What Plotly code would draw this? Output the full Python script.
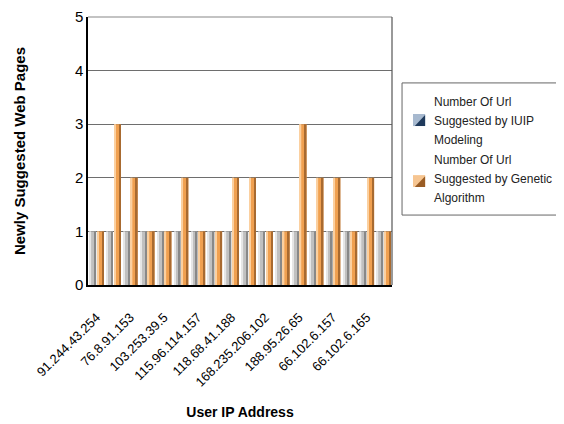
import plotly.graph_objects as go

ip_labels = ["91.244.43.254", "76.8.91.153", "103.253.39.5", "115.96.114.157",
             "118.68.41.188", "168.235.206.102", "188.95.26.65", "66.102.6.157",
             "66.102.6.165"]
label_index = [0, 2, 4, 6, 8, 10, 12, 14, 16]
x_index = list(range(18))
iuip = [1] * 18
genetic = [1, 3, 2, 1, 1, 2, 1, 1, 2, 2, 1, 1, 3, 2, 2, 1, 2, 1]
legend_lines = [["Number Of Url", "Suggested by IUIP", "Modeling"],
                ["Number Of Url", "Suggested by Genetic", "Algorithm"]]

fig = go.Figure()

def add_bar(values, offset, width, face, light, dark, name):
    fig.add_trace(go.Bar(x=x_index, y=values, offset=offset, width=width,
                         marker=dict(color=face, line=dict(width=0)), name=name))
    fig.add_trace(go.Bar(x=x_index, y=values, offset=offset, width=width * 0.22,
                         marker=dict(color=light, line=dict(width=0)), hoverinfo="skip"))
    fig.add_trace(go.Bar(x=x_index, y=values, offset=offset + width * 0.75, width=width * 0.25,
                         marker=dict(color=dark, line=dict(width=0)), hoverinfo="skip"))

add_bar(iuip, -0.40, 0.38, "#c0c0c0", "#e6e6e6", "#888888", " ".join(legend_lines[0]))
add_bar(genetic, 0.04, 0.40, "#f0a050", "#fbd0a0", "#a86a30", " ".join(legend_lines[1]))

fig.update_layout(
    width=556, height=416,
    barmode="overlay",
    paper_bgcolor="white", plot_bgcolor="white",
    margin=dict(l=80, r=172, t=9, b=139, autoexpand=False),
    font=dict(family="Liberation Sans, Arial, sans-serif", size=12, color="black"),
    showlegend=False,
    xaxis=dict(range=[-0.5, 17.5], tickmode="array", tickvals=label_index,
               ticktext=ip_labels, tickangle=-45, showgrid=False, zeroline=False,
               showline=True, linecolor="black", linewidth=1.5, mirror=False,
               ticks="outside", ticklen=18, tickcolor="rgba(0,0,0,0)",
               tickfont=dict(size=13), automargin=False,
               title=dict(text="<b>User IP Address</b>", font=dict(size=14), standoff=19)),
    yaxis=dict(range=[0, 5], dtick=1, showgrid=True, gridcolor="#6e6e6e", gridwidth=1.2,
               zeroline=False, showline=True, linecolor="black", linewidth=1.5,
               ticks="", tickfont=dict(size=15), automargin=False, ticklabeloverflow="allow",
               title=dict(text="<b>Newly Suggested Web Pages</b>", font=dict(size=15), standoff=46)),
)
# plot frame: top and right edges
fig.add_shape(type="line", xref="paper", yref="paper", x0=0, x1=1, y0=1, y1=1,
              line=dict(color="#888888", width=1.2))
fig.add_shape(type="line", xref="paper", yref="paper", x0=1, x1=1, y0=0, y1=1,
              line=dict(color="#555555", width=1.2))

# legend box (drawn manually, cut at the right edge as in the original)
fig.add_shape(type="rect", xref="paper", yref="paper", x0=1.033, x1=1.60, y0=0.261, y1=0.754,
              line=dict(color="#666666", width=1), fillcolor="white", layer="above")

sym = [dict(y0=0.593, y1=0.638, light="#a7b9cf", dark="#1f3a5c"),
       dict(y0=0.366, y1=0.410, light="#f6c591", dark="#9a5c24")]
sx0, sx1 = 1.069, 1.109
for s in sym:
    fig.add_shape(type="rect", xref="paper", yref="paper", x0=sx0, x1=sx1,
                  y0=s["y0"], y1=s["y1"], line=dict(width=0), fillcolor=s["light"], layer="above")
    fig.add_shape(type="path", xref="paper", yref="paper", layer="above",
                  path=f"M {sx0 + 0.006},{s['y0']} L {sx1},{s['y0']} L {sx1},{s['y1'] - 0.004} Z",
                  line=dict(width=0), fillcolor=s["dark"])

text_y = [[0.683, 0.612, 0.541], [0.466, 0.396, 0.325]]
for lines, ys in zip(legend_lines, text_y):
    for t, yy in zip(lines, ys):
        fig.add_annotation(xref="paper", yref="paper", x=1.1316, y=yy, text=t,
                           showarrow=False, xanchor="left", yanchor="middle",
                           font=dict(size=12, color="#222222"))

fig.write_html("out.html")
